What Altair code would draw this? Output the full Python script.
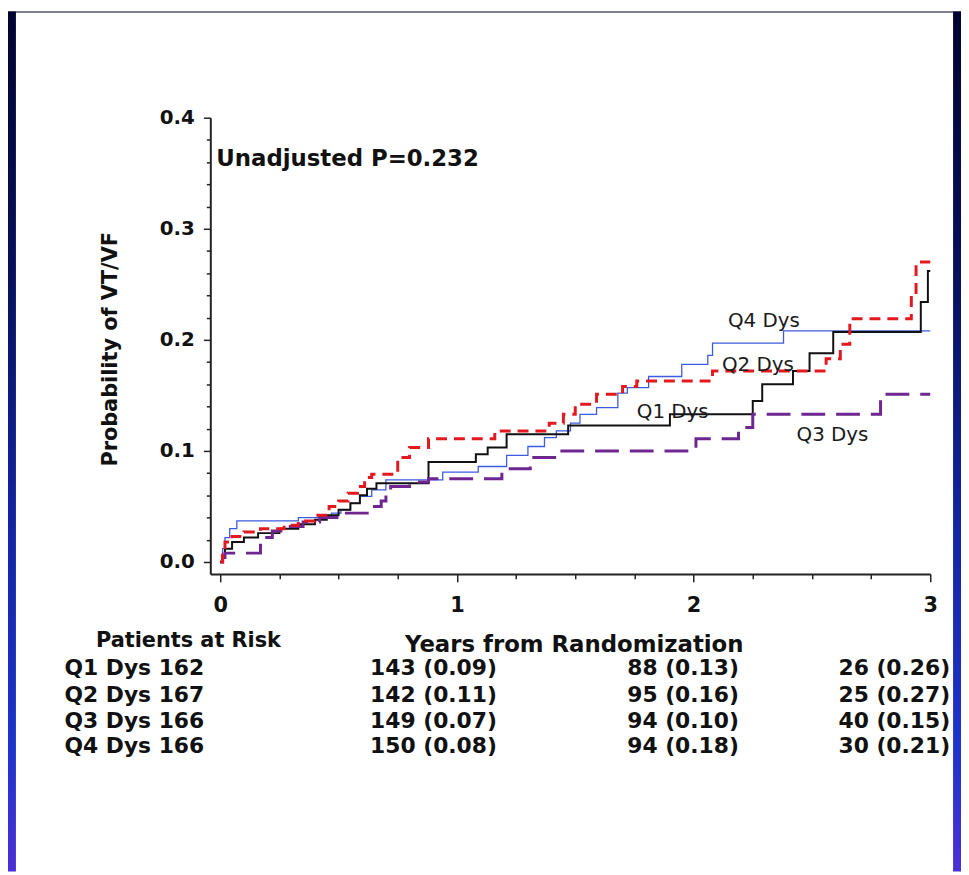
import altair as alt
import pandas as pd

# ---------------- data ----------------
q1_t = [0, 0.01, 0.02, 0.05, 0.10, 0.16, 0.25, 0.33, 0.40, 0.45, 0.50, 0.55, 0.59, 0.62, 0.66,
        0.88, 1.08, 1.13, 1.21, 1.47, 1.90, 2.25, 2.29, 2.42, 2.49, 2.59, 2.96, 2.99, 3.0]
q1_p = [0, 0.006, 0.012, 0.018, 0.022, 0.026, 0.030, 0.034, 0.038, 0.042, 0.047, 0.053, 0.060, 0.066, 0.071,
        0.090, 0.097, 0.103, 0.115, 0.123, 0.133, 0.145, 0.160, 0.172, 0.188, 0.207, 0.234, 0.262, 0.262]

q2_t = [0, 0.01, 0.02, 0.05, 0.10, 0.17, 0.27, 0.33, 0.40, 0.46, 0.50, 0.54, 0.58, 0.61, 0.64,
        0.75, 0.80, 0.88, 1.16, 1.39, 1.45, 1.50, 1.59, 1.70, 1.76, 2.08, 2.56, 2.62, 2.66, 2.92, 2.94, 3.0]
q2_p = [0, 0.010, 0.018, 0.023, 0.027, 0.030, 0.033, 0.037, 0.042, 0.050, 0.055, 0.062, 0.068, 0.076, 0.079,
        0.094, 0.103, 0.111, 0.118, 0.125, 0.133, 0.142, 0.151, 0.158, 0.163, 0.172, 0.183, 0.196, 0.219, 0.240, 0.270, 0.270]

q3_t = [0, 0.01, 0.02, 0.17, 0.19, 0.22, 0.28, 0.35, 0.42, 0.52, 0.64, 0.68, 0.70, 0.72, 0.80,
        0.88, 1.19, 1.31, 1.42, 2.01, 2.19, 2.25, 2.79, 3.0]
q3_p = [0, 0.004, 0.008, 0.015, 0.022, 0.028, 0.032, 0.036, 0.040, 0.044, 0.050, 0.055, 0.063, 0.068, 0.072,
        0.075, 0.084, 0.094, 0.100, 0.111, 0.121, 0.133, 0.151, 0.151]

q4_t = [0, 0.01, 0.02, 0.04, 0.07, 0.33, 0.47, 0.51, 0.55, 0.59, 0.64, 0.70, 0.94, 1.09, 1.21,
        1.30, 1.37, 1.42, 1.48, 1.52, 1.59, 1.68, 1.72, 1.81, 1.95, 2.06, 2.08, 2.38, 3.0]
q4_p = [0, 0.012, 0.022, 0.030, 0.037, 0.040, 0.044, 0.047, 0.053, 0.059, 0.065, 0.074, 0.081, 0.086, 0.096,
        0.104, 0.112, 0.118, 0.125, 0.133, 0.139, 0.152, 0.157, 0.167, 0.178, 0.186, 0.197, 0.208, 0.208]

group_names = ["Q1 Dys", "Q2 Dys", "Q3 Dys", "Q4 Dys"]
at_risk_0 = [162, 167, 166, 166]
at_risk_1 = [143, 142, 149, 150]
prob_1 = [0.09, 0.11, 0.07, 0.08]
at_risk_2 = [88, 95, 94, 94]
prob_2 = [0.13, 0.16, 0.10, 0.18]
at_risk_3 = [26, 25, 40, 30]
prob_3 = [0.26, 0.27, 0.15, 0.21]

curve_label_text = ["Q4 Dys", "Q2 Dys", "Q1 Dys", "Q3 Dys"]
curve_label_t = [2.145, 2.12, 1.76, 2.435]
curve_label_p = [0.217, 0.177, 0.135, 0.114]

# ---------------- layout ----------------
W, H = 726, 460
FONT = "DejaVu Sans"
one = pd.DataFrame({"a": [0]})

xscale = alt.Scale(domain=[-0.042, 3.0], nice=False, zero=False)
yscale = alt.Scale(domain=[-0.0107, 0.4], nice=False, zero=False)

x_ticks = [i * 0.25 for i in range(13)]
y_ticks = [round(i * 0.02, 2) for i in range(21)]

MAJ_Y = "abs(datum.value*10 - round(datum.value*10)) < 0.001"


def x_axis():
    return alt.Axis(
        values=x_ticks,
        labelExpr="datum.value % 1 == 0 ? format(datum.value, 'd') : ''",
        tickSize={"condition": {"test": "datum.value % 1 == 0", "value": 8}, "value": 5},
        labelFont=FONT, labelFontWeight="bold", labelFontSize=21, labelColor="#111111",
        labelPadding=13, labelFlush=False, labelOverlap=False,
        domainColor="#222222", domainWidth=2, tickColor="#222222", tickWidth=1.5,
        grid=False, title=None, zindex=2,
    )


def y_axis():
    return alt.Axis(
        values=y_ticks,
        labelExpr=MAJ_Y + " ? format(datum.value, '.1f') : ''",
        tickSize={"condition": {"test": MAJ_Y, "value": 7}, "value": 4},
        labelFont=FONT, labelFontWeight="bold", labelFontSize=20, labelColor="#111111",
        labelPadding=9, labelOverlap=False, labelBaseline="middle",
        domainColor="#222222", domainWidth=2, tickColor="#222222", tickWidth=1.5,
        grid=False, zindex=2,
        title="Probability of VT/VF", titleFont=FONT, titleFontWeight="bold", titleFontSize=21,
        titleColor="#111111", titleX=-101, titleY=233, titleAlign="center", titleBaseline="middle",
    )


grad = {"gradient": "linear", "x1": 0, "y1": 0, "x2": 0, "y2": 1,
        "stops": [{"offset": 0.0, "color": "#02042f"},
                  {"offset": 0.3, "color": "#06105a"},
                  {"offset": 0.62, "color": "#1426a6"},
                  {"offset": 0.86, "color": "#1e34cc"},
                  {"offset": 1.0, "color": "#4c2fd6"}]}

# frame strips around the white panel (kept outside the plot so nothing covers the axes)
frame_left = alt.Chart(one).mark_rect(color=grad).encode(
    x=alt.value(-204), x2=alt.value(-196), y=alt.value(-107), y2=alt.value(760))
frame_right = alt.Chart(one).mark_rect(color=grad).encode(
    x=alt.value(749), x2=alt.value(757), y=alt.value(-107), y2=alt.value(760))
frame_top = alt.Chart(one).mark_rect(color="#02042f").encode(
    x=alt.value(-204), x2=alt.value(757), y=alt.value(-107), y2=alt.value(-106))


def curve(ts, ps, color, width, dash=None):
    df = pd.DataFrame({"t": ts, "p": ps})
    kw = dict(interpolate="step-after", color=color, strokeWidth=width)
    if dash:
        kw["strokeDash"] = dash
    return alt.Chart(df).mark_line(**kw).encode(
        x=alt.X("t:Q", scale=xscale, axis=x_axis()),
        y=alt.Y("p:Q", scale=yscale, axis=y_axis()),
    )


c4 = curve(q4_t, q4_p, "#3d5be0", 1.3)
c1 = curve(q1_t, q1_p, "#111111", 2.0)
c3 = curve(q3_t, q3_p, "#6e2690", 3.0, dash=[24, 11])
c2 = curve(q2_t, q2_p, "#e3191f", 3.0, dash=[11, 7])

lab_df = pd.DataFrame({"t": curve_label_t, "p": curve_label_p, "txt": curve_label_text})
labels = alt.Chart(lab_df).mark_text(
    align="left", baseline="middle", font=FONT, fontSize=20, color="#1a1a1a"
).encode(x=alt.X("t:Q", scale=xscale, axis=x_axis()),
         y=alt.Y("p:Q", scale=yscale, axis=y_axis()), text="txt:N")


def txt(s, x, y, align="left", size=21):
    return alt.Chart(pd.DataFrame({"s": [s]})).mark_text(
        align=align, baseline="middle", font=FONT, fontWeight="bold", fontSize=size, color="#111111"
    ).encode(x=alt.value(x), y=alt.value(y), text="s:N")


texts = [
    txt("Unadjusted P=0.232", 6, 42, size=23),
    txt("Patients at Risk", -22, 528, align="center"),
    txt("Years from Randomization", 367, 532, align="center", size=23),
]
row_y = [555, 582, 608, 634]
for i in range(4):
    texts.append(txt(f"{group_names[i]} {at_risk_0[i]}", -147, row_y[i], size=22))
    texts.append(txt(f"{at_risk_1[i]} ({prob_1[i]:.2f})", 289, row_y[i], align="right", size=22))
    texts.append(txt(f"{at_risk_2[i]} ({prob_2[i]:.2f})", 533, row_y[i], align="right", size=22))
    texts.append(txt(f"{at_risk_3[i]} ({prob_3[i]:.2f})", 746, row_y[i], align="right", size=22))

chart = alt.layer(c4, c1, c3, c2, labels, frame_left, frame_right, frame_top, *texts).properties(
    width=W, height=H,
    autosize=alt.AutoSizeParams(type="none"),
    padding={"left": 204, "top": 107, "right": 31, "bottom": 300},
    background="white",
).configure_view(stroke=None)

chart.save("out.html", embed_options={"renderer": "svg", "actions": False})
